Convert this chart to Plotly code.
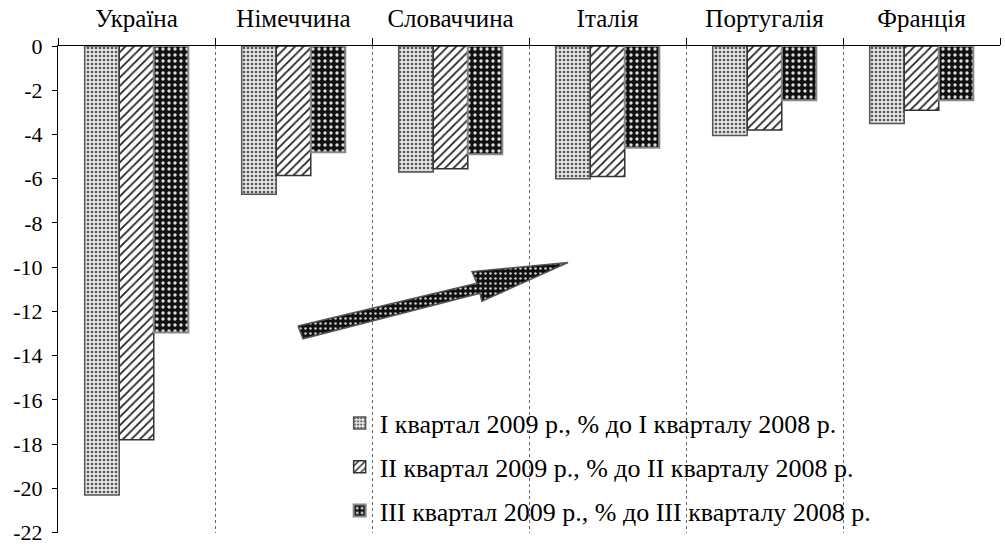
import plotly.graph_objects as go

countries = ["Україна", "Німеччина", "Словаччина", "Італія", "Португалія", "Франція"]
series_names = [
    "I квартал 2009 р., % до I кварталу 2008 р.",
    "II квартал 2009 р., % до II кварталу 2008 р.",
    "III квартал 2009 р., % до III кварталу 2008 р.",
]
q1 = [-20.3, -6.7, -5.7, -6.0, -4.05, -3.5]
q2 = [-17.8, -5.85, -5.55, -5.9, -3.8, -2.9]
q3 = [-12.95, -4.8, -4.9, -4.6, -2.45, -2.45]
y_ticks = [0, -2, -4, -6, -8, -10, -12, -14, -16, -18, -20, -22]
y_ticktext = [str(v) for v in y_ticks]

# decorative arrow (x as fraction of plot width, y in data units)
arrow_x = [0.2548, 0.4448, 0.4395, 0.5414, 0.4500, 0.4480, 0.2601, 0.2548]
arrow_y = [-12.66, -10.73, -10.20, -9.79, -11.54, -11.18, -13.24, -12.66]

FONT = "Liberation Serif"

styles = [
    dict(color="#e6e6e6", pattern=dict(shape=".", size=4, solidity=0.35, fgcolor="#555555", bgcolor="#e6e6e6", fillmode="replace"), line=dict(color="#555555", width=1.5)),
    dict(color="white", pattern=dict(shape="/", size=6, solidity=0.3, fgcolor="#222222", bgcolor="white", fillmode="replace"), line=dict(color="#333333", width=1.5)),
    dict(color="black", pattern=dict(shape=".", size=6, solidity=0.25, fgcolor="#dddddd", bgcolor="#111111", fillmode="replace"), line=dict(color="#888888", width=2)),
]

fig = go.Figure()
for i, (name, vals) in enumerate(zip(series_names, [q1, q2, q3])):
    fig.add_trace(go.Bar(
        x=countries, y=vals, name=name, legendgroup=f"g{i}",
        marker=styles[i], hoverinfo="skip",
    ))

fig.add_trace(go.Scatter(
    x=arrow_x, y=arrow_y, xaxis="x2", yaxis="y",
    mode="lines", fill="toself", fillcolor="#111111",
    fillpattern=dict(shape=".", size=5, solidity=0.2, fgcolor="#cccccc", bgcolor="#111111", fillmode="replace"),
    line=dict(color="#555555", width=1.5),
    showlegend=False, hoverinfo="skip",
))

fig.update_layout(
    width=1005, height=550,
    margin=dict(l=58, r=5, t=46, b=14),
    paper_bgcolor="white", plot_bgcolor="white",
    font=dict(family=FONT, size=22, color="black"),
    barmode="group", bargap=0.34, bargroupgap=0,
    showlegend=True,
    legend=dict(
        x=0.299, y=0.274, xanchor="left", yanchor="top",
        traceorder="grouped", tracegroupgap=7,
        font=dict(family=FONT, size=26, color="black"),
        bgcolor="rgba(0,0,0,0)", itemwidth=30,
    ),
    xaxis=dict(
        side="top", type="category", tickson="boundaries",
        ticks="outside", ticklen=7, tickcolor="black",
        showline=True, linecolor="black", linewidth=1,
        showgrid=True, gridcolor="#666666", griddash="dot", gridwidth=1,
        tickfont=dict(family=FONT, size=25),
        ticklabelstandoff=8,
        range=[-0.5, 5.5],
    ),
    xaxis2=dict(overlaying="x", range=[0, 1], visible=False, anchor="y"),
    yaxis=dict(
        range=[-22.02, 0], tickvals=y_ticks, ticktext=y_ticktext,
        ticks="outside", ticklen=5, tickcolor="black",
        showline=True, linecolor="black", linewidth=1,
        showgrid=False, zeroline=False,
        tickfont=dict(family=FONT, size=22),
        ticklabelstandoff=5,
    ),
)

fig.write_html(
    "out.html",
    config={"displayModeBar": False},
    post_script="document.body.style.margin='0';document.body.style.overflow='hidden';",
)
